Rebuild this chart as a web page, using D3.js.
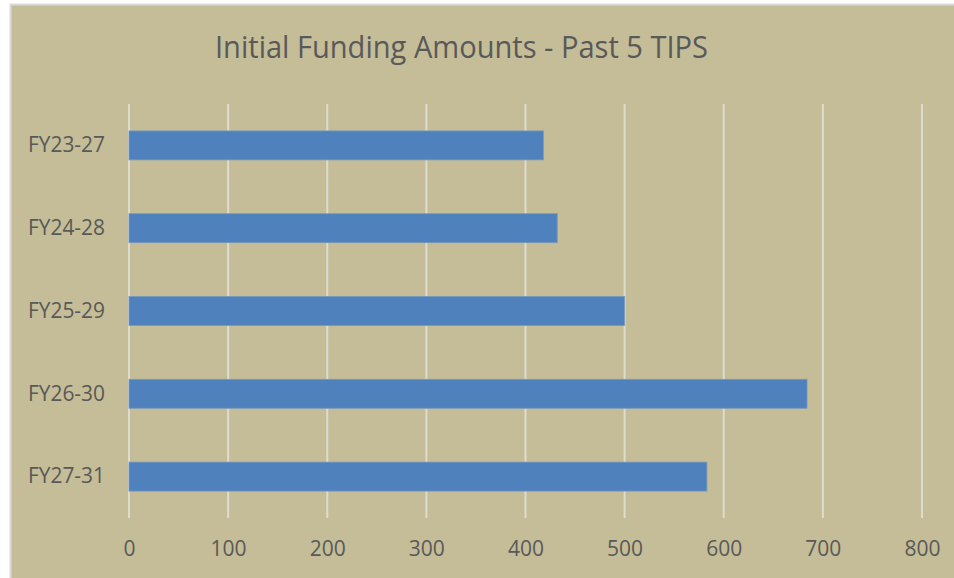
<!DOCTYPE html>
<html>
<head>
<meta charset="utf-8">
<script src="https://cdn.jsdelivr.net/npm/d3@7"></script>
<style>
  body { margin: 0; background: #fff; }
  text { font-family: "Open Sans", sans-serif; fill: #595959; }
</style>
</head>
<body>
<div id="container"></div>
<script>
const categories = ['FY23-27', 'FY24-28', 'FY25-29', 'FY26-30', 'FY27-31'];
const amounts = [418, 432, 500, 684, 583];
const ticks = [0, 100, 200, 300, 400, 500, 600, 700, 800];

const w = 954,
  h = 578;

const svg = d3.select('#container').append('svg').attr('width', w).attr('height', h);

// chart frame
svg
  .append('rect')
  .attr('x', 10.5)
  .attr('y', 4.5)
  .attr('width', w)
  .attr('height', h)
  .attr('fill', '#C4BD97')
  .attr('stroke', '#D9D9D9')
  .attr('stroke-width', 2);

const xScale = d3.scaleLinear().domain([0, 800]).range([129, 922]);
const yScale = d3.scaleBand().domain(categories).range([104, 518]).paddingInner(0.65).paddingOuter(0.325);

// gridlines
svg
  .append('g')
  .selectAll('line')
  .data(ticks)
  .enter()
  .append('line')
  .attr('x1', (d) => xScale(d))
  .attr('x2', (d) => xScale(d))
  .attr('y1', 104)
  .attr('y2', 518)
  .attr('stroke', '#DEDBD0')
  .attr('stroke-width', 2);

svg
  .append('g')
  .selectAll('rect')
  .data(amounts)
  .enter()
  .append('rect')
  .attr('x', xScale(0))
  .attr('y', (d, i) => yScale(categories[i]))
  .attr('width', (d) => xScale(d) - xScale(0))
  .attr('height', yScale.bandwidth())
  .attr('fill', '#4F81BD')
  .attr('stroke', '#7A98BE')
  .attr('stroke-width', 0.8);

// x axis labels
const xAxis = d3.axisBottom(xScale).tickValues(ticks).tickSize(0).tickPadding(0);
const gx = svg.append('g').attr('transform', 'translate(0, 541)').call(xAxis);
gx.select('.domain').remove();
gx.selectAll('text').attr('font-size', 21).attr('font-family', '"Open Sans", sans-serif').attr('fill', '#595959');

// y axis labels
const yAxis = d3.axisLeft(yScale).tickSize(0).tickPadding(0);
const gy = svg.append('g').attr('transform', 'translate(105, 0)').call(yAxis);
gy.select('.domain').remove();
gy.selectAll('text').attr('font-size', 21).attr('font-family', '"Open Sans", sans-serif').attr('fill', '#595959')
  .attr('textLength', 77).attr('lengthAdjust', 'spacingAndGlyphs');

const title = svg
  .append('text')
  .text('Initial Funding Amounts - Past 5 TIPS')
  .attr('x', 461.5)
  .attr('y', 58)
  .attr('text-anchor', 'middle')
  .attr('font-size', 31);
title.attr('textLength', 493).attr('lengthAdjust', 'spacingAndGlyphs');
</script>
</body>
</html>
